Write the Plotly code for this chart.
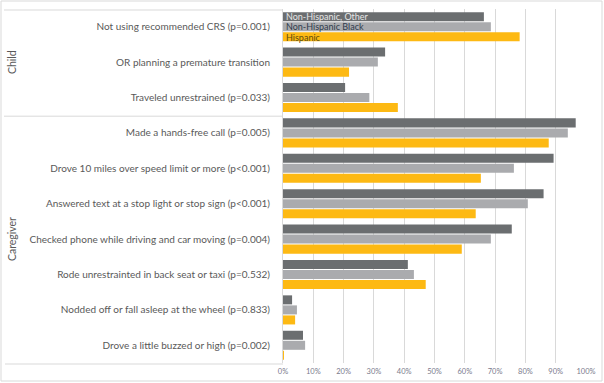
import plotly.graph_objects as go

categories = [
    "Not using recommended CRS (p=0.001)",
    "OR planning a premature transition",
    "Traveled unrestrained (p=0.033)",
    "Made a hands-free call (p=0.005)",
    "Drove 10 miles over speed limit or more (p<0.001)",
    "Answered text at a stop light or stop sign (p<0.001)",
    "Checked phone while driving and car moving (p=0.004)",
    "Rode unrestrainted in back seat or taxi (p=0.532)",
    "Nodded off or fall asleep at the wheel (p=0.833)",
    "Drove a little buzzed or high (p=0.002)",
]
series_names = ["Non-Hispanic, Other", "Non-Hispanic Black", "Hispanic"]
other = [0.663, 0.337, 0.205, 0.966, 0.893, 0.860, 0.755, 0.412, 0.030, 0.066]
black = [0.686, 0.313, 0.285, 0.940, 0.762, 0.808, 0.686, 0.432, 0.046, 0.073]
hispanic = [0.781, 0.218, 0.379, 0.877, 0.653, 0.636, 0.590, 0.471, 0.040, 0.002]
groups = [("Child", 0, 3), ("Caregiver", 3, 10)]
colors = ["#6b6e70", "#aaabae", "#fdb913"]

W, H = 604, 383
L, R, T, B = 283, 586, 9, 363

def px(x):
    return (x - L) / (R - L)

def py(y):
    return (B - y) / (B - T)

fig = go.Figure()
for name, vals, c in zip(series_names, [other, black, hispanic], colors):
    fig.add_trace(go.Bar(x=vals, y=categories, orientation="h", name=name,
                         marker=dict(color=c, line=dict(width=0))))

fig.update_layout(
    width=W, height=H,
    margin=dict(l=L, r=W - R, t=T, b=H - B, pad=0, autoexpand=False),
    paper_bgcolor="white", plot_bgcolor="white",
    barmode="group", bargap=0.15, bargroupgap=0.1,
    showlegend=False,
    font=dict(family="Lato", size=10, color="#595959"),
)
fig.update_xaxes(range=[0, 1], dtick=0.1, tickformat=".0%", showgrid=True,
                 gridcolor="#d9d9d9", gridwidth=1, zeroline=False, showline=False,
                 tickfont=dict(size=7.5, color="#7a7a8c"), ticks="", automargin=False,
                 ticklabelstandoff=2)
fig.update_yaxes(autorange="reversed", categoryorder="array", categoryarray=categories,
                 showline=True, linecolor="#d9d9d9", linewidth=1, ticks="",
                 ticklabelstandoff=10, showgrid=False, zeroline=False, automargin=False,
                 tickfont=dict(size=10, color="#595959"))

line_c = "#d9d9d9"
n = len(categories)
band = (B - T) / n
shapes = []
shapes.append(dict(type="rect", xref="paper", yref="paper", x0=px(1), x1=px(602),
                   y0=py(381), y1=py(1), line=dict(color=line_c, width=1)))
for g, s, e in groups:
    y_top = T + s * band
    shapes.append(dict(type="line", xref="paper", yref="paper", x0=px(4), x1=px(L),
                       y0=py(y_top + 1), y1=py(y_top + 1), line=dict(color=line_c, width=1)))
shapes.append(dict(type="line", xref="paper", yref="paper", x0=px(5), x1=px(L),
                   y0=py(B + 1), y1=py(B + 1), line=dict(color=line_c, width=1)))
fig.update_layout(shapes=shapes)

anns = []
for g, s, e in groups:
    yc = T + (s + e) / 2 * band
    anns.append(dict(text=g, xref="paper", yref="paper", x=px(12), y=py(yc),
                     showarrow=False, textangle=-90, font=dict(size=10.5, color="#595959"),
                     xanchor="center", yanchor="middle"))
leg_y = [16.3, 26.7, 37.7]
leg_c = ["#e6e6e6", "#2f3b4c", "#5a4a10"]
for name, yy, c in zip(series_names, leg_y, leg_c):
    anns.append(dict(text=name, xref="paper", yref="paper", x=px(284), y=py(yy),
                     showarrow=False, xanchor="left", yanchor="middle",
                     font=dict(size=9, color=c)))
fig.update_layout(annotations=anns)

fig.write_html("out.html", config={"displayModeBar": False},
               post_script="document.body.style.margin='0';document.body.style.overflow='hidden';")
